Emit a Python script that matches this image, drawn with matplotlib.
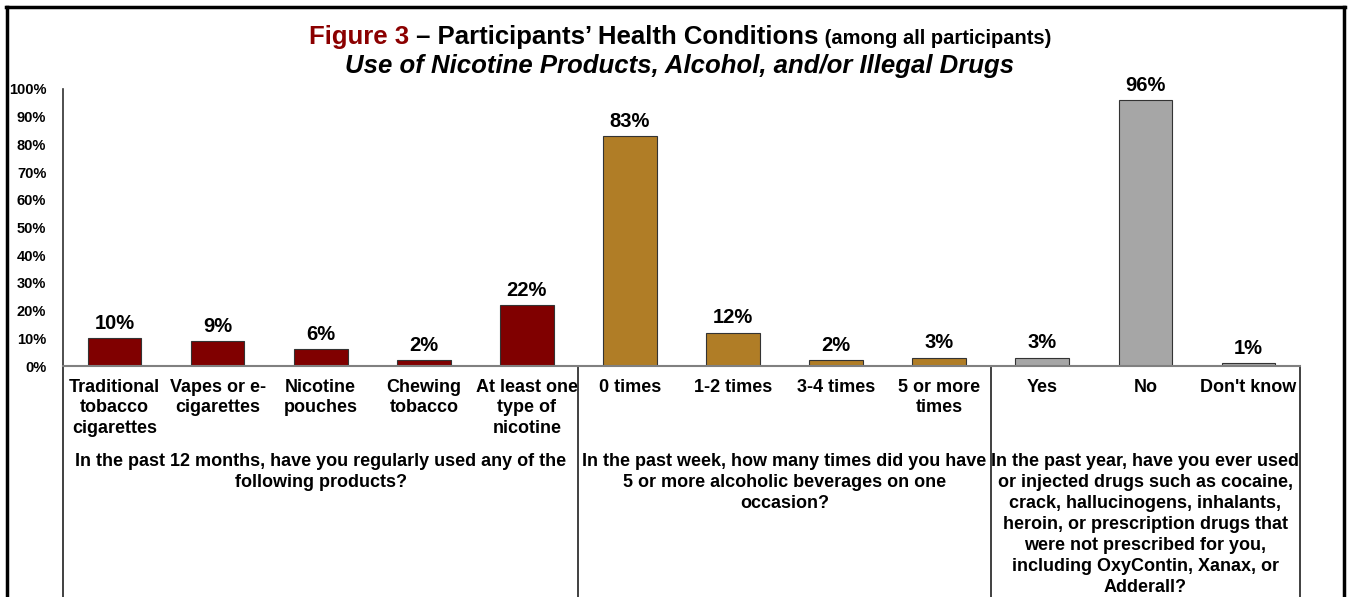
import numpy as np
import matplotlib
matplotlib.use("Agg")
import matplotlib.pyplot as plt
from matplotlib.lines import Line2D
import matplotlib.transforms as mtransforms

plt.rcParams['font.family'] = ['Liberation Sans', 'DejaVu Sans']

categories = ["Traditional\ntobacco\ncigarettes", "Vapes or e-\ncigarettes", "Nicotine\npouches",
              "Chewing\ntobacco", "At least one\ntype of\nnicotine",
              "0 times", "1-2 times", "3-4 times", "5 or more\ntimes",
              "Yes", "No", "Don't know"]
values = [10, 9, 6, 2, 22, 83, 12, 2, 3, 3, 96, 1]
group_sizes = [5, 4, 3]
group_labels = ["In the past 12 months, have you regularly used any of the\nfollowing products?",
                "In the past week, how many times did you have\n5 or more alcoholic beverages on one\noccasion?",
                "In the past year, have you ever used\nor injected drugs such as cocaine,\ncrack, hallucinogens, inhalants,\nheroin, or prescription drugs that\nwere not prescribed for you,\nincluding OxyContin, Xanax, or\nAdderall?"]
group_colors = ["#800000", "#B07D26", "#A6A6A6"]
yticks = [0, 10, 20, 30, 40, 50, 60, 70, 80, 90, 100]

W, H = 1349, 597
fig = plt.figure(figsize=(W / 100, H / 100), dpi=100)
ax = fig.add_axes([63 / W, 231 / H, (1300 - 63) / W, 277 / H])

colors = []
for g, n in enumerate(group_sizes):
    colors += [group_colors[g]] * n

x = np.arange(len(values))
bars = ax.bar(x, values, width=0.52, color=colors, edgecolor="#333333", linewidth=0.8)
for xi, v in zip(x, values):
    ax.text(xi, v + 2.0, f"{v}%", ha="center", va="bottom", fontsize=14.5, fontweight="bold")

ax.set_xlim(-0.5, len(values) - 0.5)
ax.set_ylim(0, 100)
ax.set_yticks(yticks)
ax.set_yticklabels([f"{t}%" for t in yticks], fontsize=10.5, fontweight="bold")
ax.tick_params(axis="y", length=0, pad=12)
ax.set_xticks(x)
ax.set_xticklabels(categories, fontsize=13, fontweight="bold", linespacing=1.3, va="top")
ax.tick_params(axis="x", length=0, pad=9)

for s in ["top", "right"]:
    ax.spines[s].set_visible(False)
ax.spines["left"].set_color("#303030")
ax.spines["left"].set_linewidth(1.2)
ax.spines["bottom"].set_color("#808080")
ax.spines["bottom"].set_linewidth(1.5)

# group separators below the axis
trans = mtransforms.blended_transform_factory(ax.transData, ax.transAxes)
edges = np.concatenate([[0], np.cumsum(group_sizes)]) - 0.5
for e in edges:
    ax.add_line(Line2D([e, e], [0, -1.2], transform=trans, color="#202020", lw=1.2, clip_on=False))
for g in range(len(group_sizes)):
    cx = (edges[g] + edges[g + 1]) / 2
    ax.text(cx, -0.315, group_labels[g], transform=trans, ha="center", va="top",
            fontsize=13, fontweight="bold", linespacing=1.3)

# title, built from three pieces and centred as a whole
fig.canvas.draw()
r = fig.canvas.get_renderer()
ty = 1 - 37 / H
t1 = fig.text(0, ty, "Figure 3", color="#8B0000", fontsize=18.5, fontweight="bold",
              ha="left", va="center")
t2 = fig.text(0, ty, " \u2013 Participants\u2019 Health Conditions", fontsize=18.5,
              fontweight="bold", ha="left", va="center")
t3 = fig.text(0, 1 - 38 / H, " (among all participants)", fontsize=14.5,
              fontweight="bold", ha="left", va="center")
w1 = t1.get_window_extent(r).width
w2 = t2.get_window_extent(r).width
w3 = t3.get_window_extent(r).width
x0 = 680 - (w1 + w2 + w3) / 2
t1.set_x(x0 / W)
t2.set_x((x0 + w1) / W)
t3.set_x((x0 + w1 + w2) / W)
fig.text(680 / W, 1 - 66 / H, "Use of Nicotine Products, Alcohol, and/or Illegal Drugs",
         fontsize=18.5, fontweight="bold", style="italic", ha="center", va="center")

# frame around the figure
fig.add_artist(Line2D([6 / W, 1345 / W], [1 - 7 / H, 1 - 7 / H], color="black", lw=2.5))
fig.add_artist(Line2D([7 / W, 7 / W], [0, 1 - 7 / H], color="black", lw=2.5))
fig.add_artist(Line2D([1344 / W, 1344 / W], [0, 1 - 7 / H], color="black", lw=2.5))

fig.savefig("out.png", dpi=100)
